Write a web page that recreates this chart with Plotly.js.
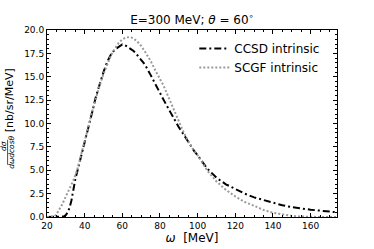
<!DOCTYPE html>
<html>
<head>
<meta charset="utf-8">
<script src="https://cdn.plot.ly/plotly-3.0.1.min.js"></script>
<style>html,body{margin:0;padding:0;background:#fff;}#chart{width:374px;height:249px;}</style>
</head>
<body>
<div id="chart"></div>
<script>
const ccsdOmega = [20,25,28,29,30,31,32,33,35,38,40,42,44,46,48,50,52,54,56,58,60,62,64,66,68,70,72,75,78,80,82,85,88,90,92,95,98,100,105,110,115,120,125,130,135,140,145,150,155,160,165,170,174];
const ccsdValues = [0,0,0,0.05,0.2,0.5,1.0,1.8,4.0,6.3,7.9,9.6,11.2,12.9,14.3,15.5,16.6,17.4,17.9,18.2,18.45,18.3,18.05,17.75,17.3,16.85,16.3,15.2,14.0,13.3,12.5,11.4,10.3,9.6,9.0,8.0,7.1,6.6,5.2,4.2,3.5,3.0,2.5,2.1,1.8,1.5,1.25,1.05,0.9,0.78,0.68,0.58,0.5];
const scgfOmega = [20,23,24,25,26,28,30,32,34,36,38,40,42,44,46,48,50,52,54,56,58,60,62,64,66,68,70,72,75,78,80,82,85,88,90,92,95,98,100,105,110,115,120,125,130,135,140,145,150,155,160,165,170,174];
const scgfValues = [0,0,0.05,0.3,0.6,1.3,2.2,3.0,3.9,5.0,6.5,8.0,9.7,11.3,12.8,14.1,15.3,16.4,17.3,18.0,18.6,19.0,19.2,19.25,19.1,18.75,18.3,17.7,16.7,15.5,14.7,14.0,12.6,11.2,10.2,9.3,8.1,7.1,6.6,5.0,3.8,2.9,2.2,1.6,1.2,0.75,0.45,0.25,0.12,0.05,0,0,0,0];
const seriesNames = ['CCSD intrinsic','SCGF intrinsic'];
const xTicks = [20,40,60,80,100,120,140,160];
const yTicks = [0,2.5,5,7.5,10,12.5,15,17.5,20];

const FONT = 'DejaVu Sans, sans-serif';
const traces = [
  {x: ccsdOmega, y: ccsdValues, name: seriesNames[0], mode: 'lines',
   line: {color: '#000000', width: 2, dash: '7px,3px,2px,3px'}},
  {x: scgfOmega, y: scgfValues, name: seriesNames[1], mode: 'lines',
   line: {color: '#999999', width: 2, dash: '2px,2px'}}
];

const L = 46.7, R = 336.7, T = 30, B = 217.3;
const px = v => (v - L) / (R - L);
const py = v => (B - v) / (B - T);

const axisCommon = {
  showline: true, linecolor: '#000', linewidth: 1, mirror: 'allticks',
  ticks: 'inside', ticklen: 4, tickwidth: 1, tickcolor: '#000',
  showgrid: false, zeroline: false,
  tickfont: {family: FONT, size: 9, color: '#000'}
};

const layout = {
  width: 374, height: 249,
  margin: {l: 47, r: 37, t: 30, b: 32, pad: 0},
  paper_bgcolor: '#fff', plot_bgcolor: '#fff',
  showlegend: true,
  legend: {x: px(194), y: py(34), xanchor: 'left', yanchor: 'top',
           bgcolor: 'rgba(0,0,0,0)', font: {family: FONT, size: 12, color: '#000'},
           tracegroupgap: 0, itemwidth: 30},
  title: {text: 'E=300 MeV; <i>θ</i> = 60<sup>∘</sup>', x: 0.5, xref: 'paper', y: 1 - 20/249, yanchor: 'middle',
          font: {family: FONT, size: 12, color: '#000'}},
  xaxis: Object.assign({}, axisCommon, {
    range: [20, 174], tickvals: xTicks, ticktext: xTicks.map(String),
    minor: {ticks: 'inside', dtick: 5, tick0: 0, ticklen: 2, tickcolor: '#000'},
    title: {text: '<i>ω</i>  [MeV]', font: {family: FONT, size: 12, color: '#000'}, standoff: 1}
  }),
  yaxis: Object.assign({}, axisCommon, {
    range: [0, 20], tickvals: yTicks, ticktext: yTicks.map(v => v.toFixed(1)),
    minor: {ticks: 'inside', dtick: 0.5, tick0: 0, ticklen: 2, tickcolor: '#000'}
  }),
  annotations: [
    {text: '[nb/sr/MeV]', xref: 'paper', yref: 'paper', x: px(10), y: py(100), textangle: -90,
     showarrow: false, xanchor: 'center', yanchor: 'middle', font: {family: FONT, size: 11, color: '#000'}},
    {text: '<i>dσ</i>', xref: 'paper', yref: 'paper', x: px(3.5), y: py(146.5), textangle: -90,
     showarrow: false, xanchor: 'center', yanchor: 'middle', font: {family: FONT, size: 7.5, color: '#000'}},
    {text: '<i>dωdcosθ</i>', xref: 'paper', yref: 'paper', x: px(11.2), y: py(152.5), textangle: -90,
     showarrow: false, xanchor: 'center', yanchor: 'middle', font: {family: FONT, size: 7.5, color: '#000'}}
  ],
  shapes: [
    {type: 'line', xref: 'paper', yref: 'paper', x0: px(7.3), x1: px(7.3), y0: py(140), y1: py(165),
     line: {color: '#000', width: 0.7}}
  ]
};

Plotly.newPlot('chart', traces, layout, {staticPlot: true, displayModeBar: false});
</script>
</body>
</html>
